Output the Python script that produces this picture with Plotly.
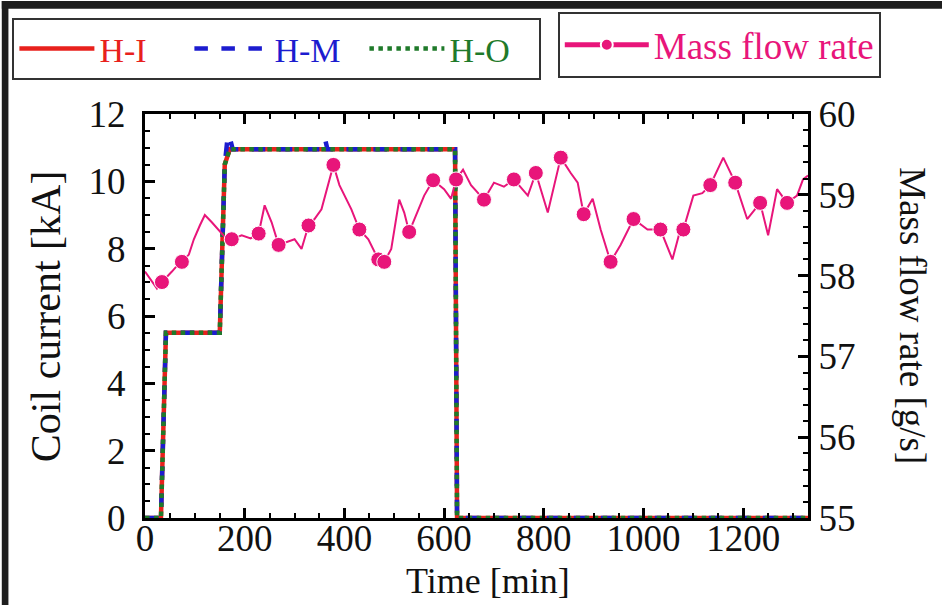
import plotly.graph_objects as go

# ---- data ----
h_time = [0, 32, 42, 150, 160, 170, 622, 626, 1330]
h_i = [0, 0, 5.5, 5.5, 10.5, 10.95, 10.95, 0, 0]
h_o = [0, 0, 5.5, 5.5, 10.5, 10.95, 10.95, 0, 0]
hm_time = [0, 32, 42, 150, 160, 166, 170, 176, 352, 356, 362, 366, 622, 626, 1330]
h_m = [0, 0, 5.5, 5.5, 10.5, 11.35, 11.3, 10.95, 10.95, 11.2, 11.2, 10.95, 10.95, 0, 0]

mass_t = [0, 12, 24, 34, 44, 54, 64, 74, 88, 98, 110, 120, 134, 148, 160, 174, 194, 212, 228,
          240, 254, 268, 288, 300, 314, 328, 340, 354, 378, 390, 414, 430, 448, 468, 480, 494,
          510, 520, 530, 544, 560, 578, 600, 614, 624, 638, 654, 680, 700, 720, 740, 768, 784,
          808, 834, 854, 868, 880, 898, 914, 934, 954, 980, 1008, 1034, 1058, 1074, 1080, 1100,
          1118, 1134, 1160, 1184, 1208, 1234, 1250, 1268, 1288, 1308, 1320, 1330]
mass_v = [58.05, 57.95, 57.84, 57.92, 57.98, 58.05, 58.12, 58.17, 58.26, 58.45, 58.62, 58.75,
          58.66, 58.56, 58.48, 58.45, 58.5, 58.46, 58.52, 58.87, 58.66, 58.38, 58.42, 58.45,
          58.33, 58.62, 58.7, 58.82, 59.37, 59.12, 58.82, 58.57, 58.45, 58.2, 58.17, 58.33,
          58.94, 58.78, 58.54, 58.75, 58.99, 59.18, 59.07, 58.95, 59.19, 59.31, 59.12, 58.94,
          59.15, 59.1, 59.19, 58.99, 59.27, 58.78, 59.46, 59.27, 59.15, 58.76, 58.95, 58.57,
          58.17, 58.38, 58.7, 58.57, 58.57, 58.2, 58.57, 58.57, 58.99, 59.02, 59.12, 59.46,
          59.15, 58.7, 58.9, 58.5, 59.07, 58.9, 58.99, 59.19, 59.24]
mass_marker = [0, 0, 0, 1, 0, 0, 0, 1, 0, 0, 0, 0, 0, 0, 0, 1, 0, 0, 1,
               0, 0, 1, 0, 0, 0, 1, 0, 0, 1, 0, 0, 1, 0, 1, 1, 0,
               0, 0, 1, 0, 0, 1, 0, 0, 1, 0, 0, 1, 0, 0, 1, 0, 1,
               0, 1, 0, 0, 1, 0, 0, 1, 0, 1, 0, 1, 0, 0, 1, 0,
               0, 1, 0, 1, 0, 1, 0, 0, 1, 0, 0, 0]

x_ticks = [0, 200, 400, 600, 800, 1000, 1200]

FONT = "Liberation Serif"
RED, BLUE, GREEN, PINK = "#e8211c", "#1c1ccf", "#1f7a2a", "#e8157a"

fig = go.Figure()
fig.add_trace(go.Scatter(x=h_time, y=h_i, mode="lines", name=f"<span style='color:{RED}'>H-I</span>",
                         line=dict(color=RED, width=4.5), cliponaxis=False, legend="legend"))
fig.add_trace(go.Scatter(x=hm_time, y=h_m, mode="lines", name=f"<span style='color:{BLUE}'>H-M</span>",
                         line=dict(color=BLUE, width=4.5, dash="dash"), cliponaxis=False, legend="legend"))
fig.add_trace(go.Scatter(x=h_time, y=h_o, mode="lines", name=f"<span style='color:{GREEN}'>H-O</span>",
                         line=dict(color=GREEN, width=4.5, dash="dot"), cliponaxis=False, legend="legend"))
fig.add_trace(go.Scatter(x=mass_t, y=mass_v, yaxis="y2", mode="lines+markers",
                         name=f"<span style='color:{PINK}'>Mass flow rate</span>",
                         line=dict(color=PINK, width=2),
                         marker=dict(color=PINK, opacity=1, size=[15 if m else 0 for m in mass_marker]),
                         legend="legend2"))

axis_common = dict(showline=True, linewidth=3, linecolor="black", ticks="inside",
                   ticklen=10, tickwidth=2.5, tickcolor="black", showgrid=False, zeroline=False,
                   tickfont=dict(family=FONT, size=37, color="#111"))

fig.update_layout(
    width=942, height=605,
    margin=dict(l=143, r=134, t=111, b=87),
    paper_bgcolor="white", plot_bgcolor="white",
    font=dict(family=FONT, color="#111"),
    xaxis=dict(range=[0, 1330], tickvals=x_ticks, mirror="ticks", ticklabelstandoff=-14,
               minor=dict(dtick=50, ticklen=5, tickwidth=2, ticks="inside", tickcolor="black"),
               **axis_common),
    yaxis=dict(range=[0, 12], dtick=2, ticklabelstandoff=9,
               minor=dict(dtick=0.5, ticklen=5, tickwidth=2, ticks="inside", tickcolor="black"),
               **axis_common),
    yaxis2=dict(range=[55, 60], dtick=1, overlaying="y", side="right",
                minor=dict(dtick=0.2, ticklen=5, tickwidth=2, ticks="inside", tickcolor="black"),
                **axis_common),
    legend=dict(orientation="h", x=-0.2, y=1.238, xanchor="left", yanchor="top",
                bgcolor="white", bordercolor="#333", borderwidth=2,
                font=dict(family=FONT, size=34), entrywidth=85, itemwidth=75),
    legend2=dict(orientation="h", x=0.6226, y=1.252, xanchor="left", yanchor="top",
                 bgcolor="white", bordercolor="#333", borderwidth=2, itemsizing="constant",
                 font=dict(family=FONT, size=37), itemwidth=84),
    showlegend=True,
)

fig.add_annotation(text="Time [min]", xref="paper", yref="paper", x=0.517, y=-0.156,
                   showarrow=False, font=dict(family=FONT, size=36, color="#111"),
                   xanchor="center", yanchor="middle")
fig.add_annotation(text="Coil current [kA]", xref="paper", yref="paper", x=-0.149, y=0.5,
                   showarrow=False, textangle=-90, font=dict(family=FONT, size=42, color="#111"),
                   xanchor="center", yanchor="middle")
fig.add_annotation(text="Mass flow rate [g/s]", xref="paper", yref="paper", x=1.158, y=0.5,
                   showarrow=False, textangle=90, font=dict(family=FONT, size=37, color="#111"),
                   xanchor="center", yanchor="middle")

# dark photo frame on left and top edges
fig.add_shape(type="rect", xref="paper", yref="paper", x0=-0.216, x1=-0.206, y0=-0.22, y1=1.28,
              fillcolor="#1e1e1e", line_width=0, layer="above")
fig.add_shape(type="rect", xref="paper", yref="paper", x0=-0.216, x1=1.21, y0=1.2604, y1=1.28,
              fillcolor="#1e1e1e", line_width=0, layer="above")

fig.write_html("out.html")
